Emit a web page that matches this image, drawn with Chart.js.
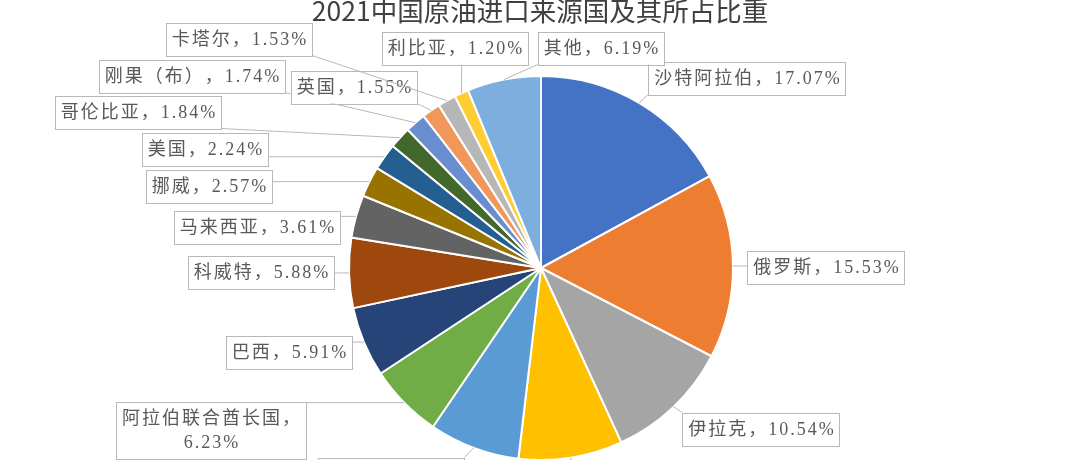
<!DOCTYPE html>
<html>
<head>
<meta charset="utf-8">
<title>2021中国原油进口来源国及其所占比重</title>
<script src="https://cdn.jsdelivr.net/npm/chart.js"></script>
<style>
  html, body { margin: 0; padding: 0; background: #fff; overflow: hidden; }
  #wrap { width: 1080px; height: 460px; overflow: hidden; }
</style>
</head>
<body>
<div id="wrap"><canvas id="myChart" width="1080" height="480"></canvas></div>
<script>
var chartTitle = '2021中国原油进口来源国及其所占比重';

var countries = ['沙特阿拉伯', '俄罗斯', '伊拉克', '阿曼', '安哥拉', '阿拉伯联合酋长国', '巴西', '科威特',
    '马来西亚', '挪威', '美国', '哥伦比亚', '刚果（布）', '英国', '卡塔尔', '利比亚', '其他'];
var shares = [17.07, 15.53, 10.54, 8.74, 7.63, 6.23, 5.91, 5.88, 3.61, 2.57, 2.24, 1.84, 1.74, 1.55, 1.53, 1.20, 6.19];

var sliceColors = ['#4472C4', '#ED7D31', '#A5A5A5', '#FFC000', '#5B9BD5', '#70AD47', '#264478', '#9E480E',
    '#636363', '#997300', '#255E91', '#43682B', '#698ED0', '#F1975A', '#B7B7B7', '#FFCD33', '#7CAFDD'];

// where the callout boxes sit (box centres), placed by hand like the excel ones
var labelBoxes = [[747, 78], [826, 267], [761, 429], [625, 482], [391, 474], [211, 430], [289, 352], [261, 272],
    [257, 227], [209, 186], [205, 149], [138, 112], [192, 76], [354, 87], [239, 39], [455, 48], [601, 48]];

var labelFont = '18px "Liberation Serif", "Noto Sans CJK SC"';
var letterGap = 2;

function labelLines(i) {
    var pct = shares[i].toFixed(2) + '%';
    if (countries[i].length > 6) return [countries[i] + '，', pct];
    return [countries[i] + '，' + pct];
}

function spacedWidth(ctx, s) {
    var w = 0;
    for (var k = 0; k < s.length; k++) w += ctx.measureText(s[k]).width;
    return w + letterGap * (s.length - 1);
}

function spacedText(ctx, s, cx, y) {
    var x = cx - spacedWidth(ctx, s) / 2;
    for (var k = 0; k < s.length; k++) {
        ctx.fillText(s[k], x, y);
        x += ctx.measureText(s[k]).width + letterGap;
    }
}

var callouts = {
    id: 'callouts',
    afterDatasetsDraw: function (chart) {
        var ctx = chart.ctx;
        var arcs = chart.getDatasetMeta(0).data;
        ctx.save();

        ctx.font = '26.5px "Noto Sans CJK SC"';
        ctx.fillStyle = '#404040';
        ctx.textAlign = 'center';
        ctx.textBaseline = 'middle';
        ctx.fillText(chartTitle, 540, 11);

        ctx.font = labelFont;
        ctx.textAlign = 'left';
        arcs.forEach(function (arc, i) {
            var p = arc.getProps(['x', 'y', 'startAngle', 'endAngle', 'outerRadius'], true);
            var mid = (p.startAngle + p.endAngle) / 2;
            var ax = p.x + Math.cos(mid) * p.outerRadius;
            var ay = p.y + Math.sin(mid) * p.outerRadius;

            var lines = labelLines(i);
            var w = 0;
            lines.forEach(function (s) { w = Math.max(w, spacedWidth(ctx, s)); });
            var lineH = 24;
            var bw = w + 12, bh = lines.length * lineH + 9;
            var left = labelBoxes[i][0] - bw / 2, top = labelBoxes[i][1] - bh / 2;
            var right = left + bw, bottom = top + bh;

            var sx, sy;
            if (ax < left || ax > right) {
                sx = ax < left ? left : right;
                sy = Math.min(Math.max(ay, top), bottom);
            } else {
                sy = ay < top ? top : bottom;
                sx = Math.min(Math.max(ax, left), right);
            }
            ctx.strokeStyle = '#b8b8b8';
            ctx.lineWidth = 1;
            ctx.beginPath();
            ctx.moveTo(sx, sy);
            ctx.lineTo(ax, ay);
            ctx.stroke();

            ctx.fillStyle = '#fff';
            ctx.fillRect(left, top, bw, bh);
            ctx.strokeRect(Math.round(left) + 0.5, Math.round(top) + 0.5, Math.round(bw), Math.round(bh));

            ctx.fillStyle = '#595959';
            lines.forEach(function (s, k) {
                spacedText(ctx, s, labelBoxes[i][0], top + 4.5 + lineH * (k + 0.5) + 1);
            });
        });
        ctx.restore();
    }
};

var ctx = document.getElementById('myChart').getContext('2d');
var chart = new Chart(ctx, {
    type: 'pie',
    data: {
        labels: countries,
        datasets: [{
            data: shares,
            backgroundColor: sliceColors,
            borderColor: '#ffffff',
            borderWidth: 2
        }]
    },
    options: {
        responsive: false,
        animation: false,
        layout: { padding: { top: 75, bottom: 19, left: 2, right: 0 } },
        plugins: {
            legend: { display: false },
            tooltip: { enabled: false }
        }
    },
    plugins: [callouts]
});
</script>
</body>
</html>
